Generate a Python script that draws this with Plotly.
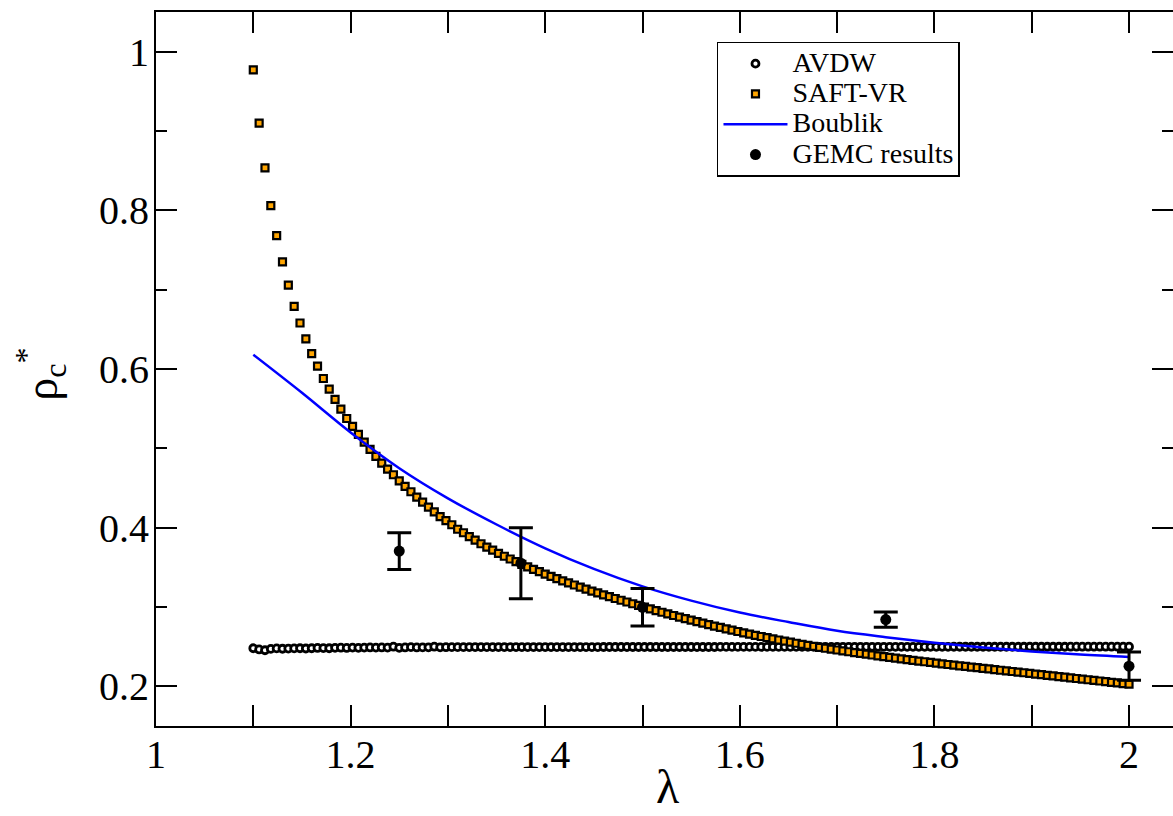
import numpy as np
import plotly.graph_objects as go

# lambda grid of the model curves (1.1 .. 2.0, 151 samples)
lam = np.round(1.1 + 0.006 * np.arange(151), 3)

saft_vr = [
    0.977, 0.910, 0.8535, 0.806, 0.768, 0.735, 0.7056, 0.679, 0.658, 0.638,
    0.6195, 0.6035, 0.588, 0.5746, 0.5616, 0.5494, 0.5376, 0.5276, 0.5175, 0.5078,
    0.4986, 0.4898, 0.4813, 0.4738, 0.4667, 0.459, 0.452, 0.4453, 0.4385, 0.4322,
    0.426, 0.42, 0.414, 0.409, 0.4037, 0.398, 0.3936, 0.3886, 0.3843, 0.3797,
    0.3755, 0.3717, 0.3676, 0.364, 0.3605, 0.3571, 0.3538, 0.3506, 0.3475, 0.3445,
    0.3415, 0.3386, 0.3358, 0.3330, 0.3303, 0.3277, 0.3251, 0.3226, 0.3201, 0.3177,
    0.3153, 0.3130, 0.3107, 0.3085, 0.3063, 0.3041, 0.3020, 0.2999, 0.2977, 0.2955,
    0.2934, 0.2913, 0.2893, 0.2873, 0.2853, 0.2834, 0.2815, 0.2796, 0.2778, 0.2760,
    0.2742, 0.2725, 0.2708, 0.2691, 0.2675, 0.2659, 0.2643, 0.2628, 0.2613, 0.2598,
    0.2584, 0.2570, 0.2556, 0.2543, 0.2530, 0.2517, 0.2504, 0.2492, 0.2480, 0.2469,
    0.2458, 0.2447, 0.2436, 0.2425, 0.2415, 0.2405, 0.2395, 0.2385, 0.2375, 0.2365,
    0.2355, 0.2346, 0.2337, 0.2328, 0.2319, 0.2310, 0.2301, 0.2292, 0.2283, 0.2275,
    0.2267, 0.2259, 0.2251, 0.2243, 0.2235, 0.2227, 0.2219, 0.2211, 0.2203, 0.2195,
    0.2187, 0.2179, 0.2171, 0.2163, 0.2155, 0.2147, 0.2139, 0.2131, 0.2123, 0.2115,
    0.2107, 0.2099, 0.2091, 0.2083, 0.2075, 0.2067, 0.2059, 0.2051, 0.2043, 0.2035,
    0.2027,
]

avdw = [
    0.2480, 0.2465, 0.2455, 0.2472, 0.2478, 0.2474, 0.2476, 0.2478, 0.2480, 0.2477,
    0.2480, 0.2484, 0.2482, 0.2480, 0.2485, 0.2487, 0.2484, 0.2488, 0.2486, 0.2488,
    0.2490, 0.2488, 0.2490, 0.2488, 0.2500, 0.2486, 0.2490, 0.2494, 0.2490, 0.2491,
    0.2492, 0.2500, 0.2492, 0.2493, 0.2494, 0.2494, 0.2494, 0.2495, 0.2495, 0.2495,
    0.2495, 0.2495, 0.2495, 0.2495, 0.2495, 0.2495, 0.2495, 0.2495, 0.2495, 0.2495,
    0.2495, 0.2495, 0.2495, 0.2495, 0.2495, 0.2495, 0.2495, 0.2495, 0.2495, 0.2495,
    0.2496, 0.2496, 0.2496, 0.2496, 0.2496, 0.2496, 0.2496, 0.2496, 0.2496, 0.2496,
    0.2496, 0.2496, 0.2496, 0.2496, 0.2496, 0.2496, 0.2496, 0.2496, 0.2496, 0.2496,
    0.2497, 0.2497, 0.2497, 0.2497, 0.2497, 0.2497, 0.2497, 0.2497, 0.2497, 0.2497,
    0.2497, 0.2497, 0.2497, 0.2497, 0.2497, 0.2497, 0.2497, 0.2497, 0.2497, 0.2497,
    0.2498, 0.2498, 0.2498, 0.2498, 0.2498, 0.2498, 0.2498, 0.2498, 0.2498, 0.2498,
    0.2498, 0.2498, 0.2498, 0.2498, 0.2498, 0.2498, 0.2498, 0.2498, 0.2498, 0.2498,
    0.2499, 0.2499, 0.2499, 0.2499, 0.2499, 0.2499, 0.2499, 0.2499, 0.2499, 0.2499,
    0.2499, 0.2499, 0.2499, 0.2499, 0.2499, 0.2499, 0.2499, 0.2499, 0.2499, 0.2499,
    0.2500, 0.2500, 0.2500, 0.2500, 0.2500, 0.2500, 0.2500, 0.2500, 0.2500, 0.2500,
    0.2500,
]

boublik_x = [1.10, 1.15, 1.20, 1.25, 1.30, 1.35, 1.40, 1.45, 1.50, 1.55,
             1.60, 1.65, 1.70, 1.75, 1.80, 1.85, 1.90, 1.95, 2.00]
boublik_y = [0.618, 0.570, 0.520, 0.475, 0.437, 0.404, 0.374, 0.348, 0.326, 0.308,
             0.293, 0.281, 0.270, 0.262, 0.255, 0.249, 0.244, 0.240, 0.237]

gemc_x = [1.25, 1.375, 1.5, 1.75, 2.0]
gemc_y = [0.3705, 0.3552, 0.2996, 0.2841, 0.2254]
gemc_err = [0.0231, 0.0447, 0.0236, 0.0095, 0.0178]

series_names = ["AVDW", "SAFT-VR", "Boublik", "GEMC results"]
x_ticks = [1, 1.2, 1.4, 1.6, 1.8, 2]
y_ticks = [0.2, 0.4, 0.6, 0.8, 1]
x_range = [1, 2.0452]
y_range = [0.15, 1.05]
x_title = "λ"
y_title = "ρ<sub>c</sub><sup>*</sup>"

FONT = "Liberation Serif"


def leg(name):
    return '<span style="font-size:28px">' + name + "</span>"


fig = go.Figure()
fig.add_trace(go.Scatter(
    x=lam, y=avdw, mode="markers", name=leg(series_names[0]),
    marker=dict(symbol="circle", size=7, color="white",
                line=dict(color="black", width=2.8)),
))
fig.add_trace(go.Scatter(
    x=lam, y=saft_vr, mode="markers", name=leg(series_names[1]),
    marker=dict(symbol="square", size=7, color="#ffa500",
                line=dict(color="black", width=2.2)),
))
fig.add_trace(go.Scatter(
    x=boublik_x, y=boublik_y, mode="lines", name=leg(series_names[2]),
    line=dict(color="#0000ff", width=2.5, shape="spline"),
))
fig.add_trace(go.Scatter(
    x=gemc_x, y=gemc_y, mode="markers", name=leg(series_names[3]),
    marker=dict(symbol="circle", size=11, color="black"),
    error_y=dict(type="data", array=gemc_err, visible=True,
                 color="black", thickness=3, width=12),
))
# invisible carrier so the right-hand tick axis is drawn
fig.add_trace(go.Scatter(
    x=gemc_x, y=gemc_y, yaxis="y2", mode="markers", showlegend=False,
    marker=dict(opacity=0), hoverinfo="skip",
))

tickfont = dict(family=FONT, size=40, color="black")

fig.update_layout(
    xaxis=dict(
        range=x_range, tickvals=x_ticks, automargin=False,
        showline=True, linecolor="black", linewidth=2, mirror="allticks",
        ticks="inside", ticklen=21, tickwidth=2, tickcolor="black",
        showgrid=False, zeroline=False, tickfont=tickfont,
        ticklabelstandoff=-8,
        minor=dict(dtick=0.1, tick0=1, ticks="inside", ticklen=11,
                   tickwidth=2, tickcolor="black", showgrid=False),
    ),
    yaxis=dict(
        range=y_range, tickvals=y_ticks, automargin=False,
        showline=True, linecolor="black", linewidth=2, mirror=False,
        ticks="inside", ticklen=21, tickwidth=2, tickcolor="black",
        showgrid=False, zeroline=False, tickfont=tickfont,
        ticklabelstandoff=-3,
        minor=dict(dtick=0.1, tick0=0.2, ticks="inside", ticklen=11,
                   tickwidth=2, tickcolor="black", showgrid=False),
    ),
    yaxis2=dict(
        range=y_range, tickvals=y_ticks, overlaying="y", side="right",
        anchor="x", showline=False, showticklabels=False, automargin=False,
        ticks="inside", ticklen=21, tickwidth=2, tickcolor="black",
        showgrid=False, zeroline=False,
        minor=dict(dtick=0.1, tick0=0.2, ticks="inside", ticklen=11,
                   tickwidth=2, tickcolor="black", showgrid=False),
    ),
    annotations=[
        dict(text=x_title, xref="paper", yref="paper", x=0.5034, y=-0.1245,
             xanchor="center", yanchor="bottom", showarrow=False,
             font=dict(family=FONT, size=48, color="black")),
        dict(text=y_title, xref="paper", yref="paper", x=-0.113, y=0.492,
             xanchor="center", yanchor="middle", showarrow=False,
             textangle=-90,
             font=dict(family=FONT, size=46, color="black")),
    ],
    width=1173, height=816,
    margin=dict(l=156, r=0, t=12, b=90),
    plot_bgcolor="white", paper_bgcolor="white",
    legend=dict(
        x=0.5516, y=0.958, xanchor="left", yanchor="top",
        bgcolor="white", bordercolor="black", borderwidth=1.5,
        font=dict(family=FONT, size=21, color="black"),
        itemwidth=64, tracegroupgap=0,
    ),
    showlegend=True,
)

fig.write_html("out.html")
